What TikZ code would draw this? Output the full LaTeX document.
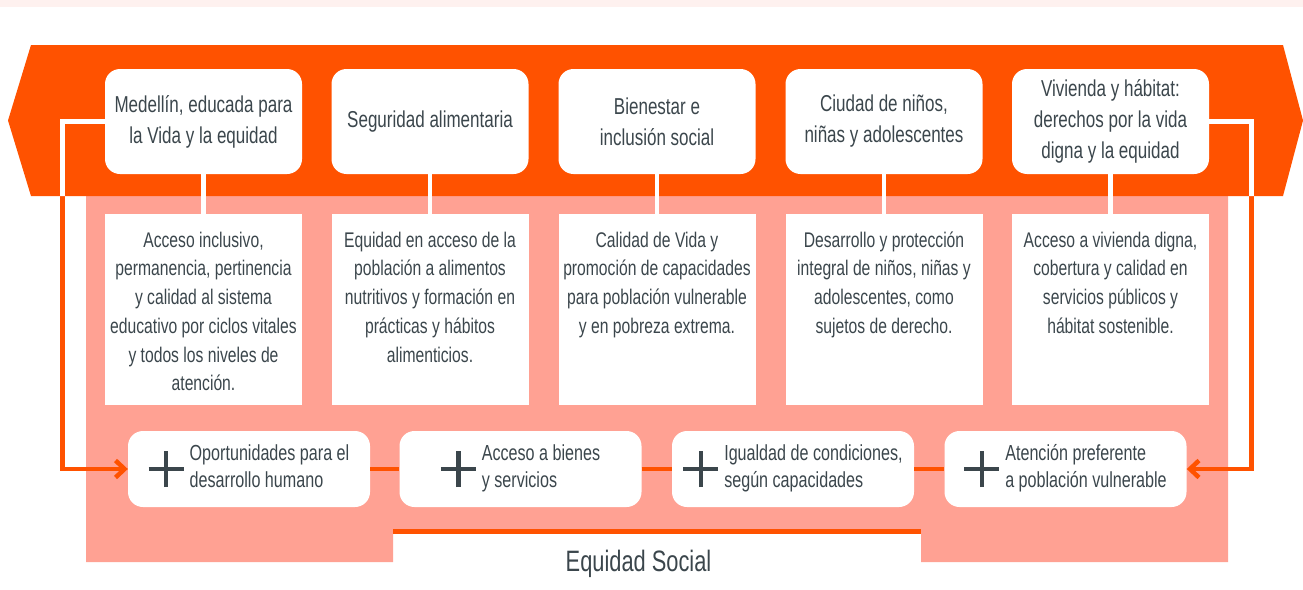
\documentclass[tikz,border=0pt]{standalone}
\usepackage{fontspec}
\setmainfont{Liberation Sans}[FakeStretch=0.74]
\usetikzlibrary{arrows.meta}
\definecolor{orng}{HTML}{FF5200}
\definecolor{salm}{HTML}{FFA193}
\definecolor{txtc}{HTML}{3B464C}
\definecolor{stripc}{HTML}{FEF1EF}
\newcommand\plusmk{\hbox{\rlap{\rule[15.75pt]{35pt}{4.5pt}}\hspace*{15.25pt}\rule{4.5pt}{36pt}\hspace*{15.25pt}}}
\newcommand\lowtext[1]{\parbox[t][191pt][t]{197pt}{\centering\rule{0pt}{33pt}#1}}
\newcommand\bottext[1]{$\vcenter{\plusmk}$\hspace{6pt}\begin{tabular}{@{}l@{}}#1\end{tabular}}
\begin{document}
\begin{tikzpicture}[x=1pt,y=-1pt,
  topbox/.style={fill=white, rounded corners=15pt, minimum width=197pt, minimum height=105pt, inner sep=0pt, align=center, text=txtc, font=\fontsize{23}{31}\selectfont},
  lowbox/.style={fill=white, inner sep=0pt, anchor=north, text=txtc, font=\fontsize{21.2}{28.7}\selectfont},
  botbox/.style={fill=white, rounded corners=15pt, minimum width=242pt, minimum height=76pt, inner sep=0pt, text=txtc, font=\fontsize{21.8}{27}\selectfont},
  conn/.style={draw=orng, line width=4.5pt, -{Straight Barb[length=9pt,width=17pt]}},
  link/.style={draw=orng, line width=4.5pt},
  stem/.style={draw=white, line width=4.5pt},
  bannerpath/.style={}]
\useasboundingbox (0,0) rectangle (1303,589);
\fill[stripc] (0,0) rectangle (1303,6.5);
% salmon backdrop
\fill[salm] (86,190) -- (1228,190) -- (1228,562) -- (921,562) -- (921,531) -- (393,531) -- (393,562) -- (86,562) -- cycle;
% orange banner
\fill[orng] (31,45) -- (1283,45) -- (1303,120.5) -- (1283,196) -- (31,196) -- (8,120.5) -- cycle;
% bottom line
\draw[orng, line width=5pt] (393,531.5) -- (921,531.5);
% top boxes
\node[topbox] (t1) at (203.5,121.5) {Medellín, educada para\\la Vida y la equidad};
\node[topbox] (t2) at (430,121.5) {Seguridad alimentaria};
\node[topbox] (t3) at (657,121.5) {Bienestar e\\inclusión social};
\node[topbox] (t4) at (884,121.5) {Ciudad de niños,\\niñas y adolescentes};
\node[topbox] (t5) at (1110.5,121.5) {Vivienda y hábitat:\\derechos por la vida\\digna y la equidad};
% lower boxes
\node[lowbox] (l1) at (203.5,214) {\lowtext{Acceso inclusivo,\\permanencia, pertinencia\\y calidad al sistema\\educativo por ciclos vitales\\y todos los niveles de\\atención.}};
\node[lowbox] (l2) at (430,214) {\lowtext{Equidad en acceso de la\\población a alimentos\\nutritivos y formación en\\prácticas y hábitos\\alimenticios.}};
\node[lowbox] (l3) at (657,214) {\lowtext{Calidad de Vida y\\promoción de capacidades\\para población vulnerable\\y en pobreza extrema.}};
\node[lowbox] (l4) at (884,214) {\lowtext{Desarrollo y protección\\integral de niños, niñas y\\adolescentes, como\\sujetos de derecho.}};
\node[lowbox] (l5) at (1110.5,214) {\lowtext{Acceso a vivienda digna,\\cobertura y calidad en\\servicios públicos y\\hábitat sostenible.}};
% bottom boxes
\node[botbox] (b1) at (249,469) {\bottext{Oportunidades para el\\desarrollo humano}};
\node[botbox] (b2) at (520.5,469) {\bottext{Acceso a bienes\\y servicios}};
\node[botbox] (b3) at (793,469) {\bottext{Igualdad de condiciones,\\según capacidades}};
\node[botbox] (b4) at (1065.5,469) {\bottext{Atención preferente\\a población vulnerable}};
% stems
\foreach \i in {1,...,5} \draw[stem] (t\i) -- (l\i);
% links between bottom boxes
\draw[link] (b1) -- (b2);
\draw[link] (b2) -- (b3);
\draw[link] (b3) -- (b4);
% feedback connectors
\draw[conn] (t1.west) -- ++(-42.5,0) |- (b1.west);
\draw[conn] (t5.east) -- ++(42.5,0) |- (b4.east);
\begin{scope}
\clip (31,45) -- (1283,45) -- (1303,120.5) -- (1283,196) -- (31,196) -- (8,120.5) -- cycle;
\draw[stem] (t1.west) -- ++(-42.5,0) |- (b1.west);
\draw[stem] (t5.east) -- ++(42.5,0) |- (b4.east);
\end{scope}
% caption
\node[text=txtc, font=\fontsize{29.5}{30}\selectfont, anchor=base, inner sep=0pt] (eq) at (638.5,571.7) {Equidad Social};
\end{tikzpicture}
\end{document}
